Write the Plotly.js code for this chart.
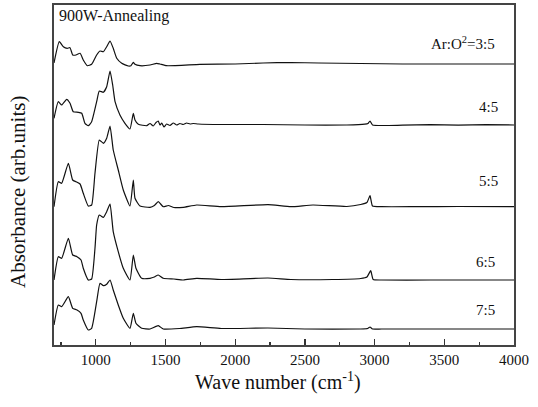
<!DOCTYPE html>
<html>
<head>
<meta charset="utf-8">
<script src="https://cdn.plot.ly/plotly-3.0.1.min.js"></script>
<style>html,body{margin:0;padding:0;background:#fff;}#chart{width:538px;height:407px;}</style>
</head>
<body>
<div id="chart"></div>
<script>
// Wavenumbers (cm^-1) and absorbance (arb. units, stacked offsets)
const wn_3_5  = [700, 738, 767, 795, 815, 834, 858, 887, 910, 939, 970, 1006, 1030, 1054, 1078, 1102, 1125, 1150, 1186, 1233, 1252, 1269, 1281, 1317, 1389, 1437, 1460, 1509, 1747, 2000, 2200, 2400, 2600, 2900, 3200, 3600, 4000];
const abs_3_5 = [282, 303.3, 298.3, 296.7, 297.3, 290, 290, 291.7, 285, 279.3, 280.7, 290, 294, 293.3, 298.3, 304, 296.7, 286.7, 281.7, 279, 279.3, 282.7, 280.7, 279.3, 280, 281.7, 281, 279.3, 280.7, 281, 282, 282.5, 282, 281.5, 281, 281, 281];

const wn_4_5  = [700, 731, 755, 791, 815, 838, 874, 899, 922, 946, 970, 1006, 1025, 1054, 1078, 1102, 1121, 1138, 1173, 1209, 1245, 1269, 1281, 1305, 1365, 1389, 1412, 1432, 1448, 1460, 1473, 1489, 1508, 1532, 1556, 1580, 1603, 1627, 1651, 1676, 1699, 1735, 1900, 2200, 2500, 2800, 2930, 2952, 2967, 2985, 3200, 3400, 3600, 3800, 4000];
const abs_4_5 = [226.7, 243.3, 240, 245.7, 241.7, 233.3, 232.7, 231.7, 221.7, 219.3, 223.3, 243.3, 254, 252.7, 258.3, 274, 260, 243.3, 230, 221.7, 216, 231.7, 225, 220.7, 219.3, 221.5, 219, 222.5, 224, 220, 222, 218, 221, 219.5, 222, 220, 221.5, 220.5, 222, 221, 221.5, 221, 220.5, 220.5, 220, 220, 220.8, 221.5, 224, 220, 219.8, 220.3, 219.8, 220.3, 220];

const wn_5_5  = [700, 731, 755, 803, 834, 858, 887, 910, 946, 970, 994, 1025, 1054, 1078, 1102, 1125, 1161, 1197, 1245, 1269, 1281, 1317, 1389, 1420, 1448, 1484, 1520, 1560, 1628, 1724, 1900, 2235, 2400, 2558, 2800, 2900, 2945, 2967, 2985, 3050, 3300, 3600, 4000];
const abs_5_5 = [138.3, 163.3, 161.7, 181.7, 165, 163.3, 161, 151.7, 139, 140, 171.7, 205, 201.7, 206.7, 219, 195, 175, 155, 139, 165, 146.7, 139, 137.7, 139.5, 143.3, 138.3, 139.5, 137.5, 137.7, 140, 138.3, 140.3, 138.3, 140, 138.5, 140.5, 142.5, 149.3, 139, 138.3, 138.3, 138.5, 138.3];

const wn_6_5  = [700, 731, 755, 803, 834, 865, 894, 910, 946, 970, 994, 1006, 1025, 1054, 1078, 1102, 1125, 1161, 1197, 1245, 1269, 1288, 1329, 1389, 1420, 1448, 1484, 1560, 1628, 1724, 1900, 2235, 2400, 2700, 2900, 2945, 2972, 2990, 3050, 3400, 4000];
const abs_6_5 = [65, 88.3, 86.7, 106.7, 90, 88.3, 85, 76.7, 65, 66, 96.7, 120, 130, 127.7, 133.3, 141, 113.3, 93.3, 76.7, 65, 90, 76.7, 66.7, 66.7, 68, 70, 66.7, 66, 65, 66.7, 65.5, 67, 65.5, 65.5, 66.5, 68, 74.3, 65.5, 65, 65, 65];

const wn_7_5  = [700, 731, 755, 803, 834, 865, 894, 910, 946, 970, 1006, 1030, 1054, 1078, 1102, 1125, 1161, 1197, 1245, 1269, 1288, 1329, 1389, 1448, 1484, 1600, 1724, 1900, 2235, 2500, 2900, 2950, 2967, 2985, 3050, 3500, 4000];
const abs_7_5 = [20, 40, 38.3, 48.3, 36.7, 35, 31.7, 25, 15, 16.7, 43.3, 61.7, 59.3, 60.7, 65, 55, 40, 26.7, 16.7, 31.7, 21.7, 16.7, 16, 19.3, 16, 16.5, 18.3, 16.5, 17, 16, 16, 16.5, 18, 16, 16, 16, 16];

const sampleLabels = ["Ar:O<sup>2</sup>=3:5", "4:5", "5:5", "6:5", "7:5"];
const panelTitle = "900W-Annealing";
const xTitle = "Wave number (cm<sup>-1</sup>)";
const yTitle = "Absorbance (arb.units)";
const xTickVals = [1000, 1500, 2000, 2500, 3000, 3500, 4000];

const series = [[wn_3_5, abs_3_5], [wn_4_5, abs_4_5], [wn_5_5, abs_5_5], [wn_6_5, abs_6_5], [wn_7_5, abs_7_5]];
const traces = series.map(s => ({
  x: s[0], y: s[1], type: 'scatter', mode: 'lines',
  line: {color: '#111', width: 1.2, shape: 'spline', smoothing: 0.45},
  showlegend: false, hoverinfo: 'skip'
}));

const serif = 'Liberation Serif';
const labelY = [0.888, 0.700, 0.482, 0.244, 0.103];
const labelX = [0.963, 0.970, 0.970, 0.963, 0.963];
const annotations = sampleLabels.map((t, i) => ({
  text: t, xref: 'paper', yref: 'paper', x: labelX[i], y: labelY[i],
  xanchor: 'right', yanchor: 'middle', showarrow: false,
  font: {family: serif, size: 15, color: '#111'}
}));
annotations.push({
  text: panelTitle, xref: 'paper', yref: 'paper', x: 0.006, y: 0.968,
  xanchor: 'left', yanchor: 'middle', showarrow: false,
  font: {family: serif, size: 16, color: '#111'}
});
// axis titles placed as annotations (paper coords relative to plot area 54..514 x 5..345)
annotations.push({
  text: xTitle, xref: 'paper', yref: 'paper', x: (278 - 54) / 460, y: (345 - 381) / 340,
  xanchor: 'center', yanchor: 'middle', showarrow: false,
  font: {family: serif, size: 20, color: '#111'}
});
annotations.push({
  text: yTitle, xref: 'paper', yref: 'paper', x: (18 - 54) / 460, y: (345 - 192) / 340,
  xanchor: 'center', yanchor: 'middle', showarrow: false, textangle: -90,
  font: {family: serif, size: 21, color: '#111'}
});

const layout = {
  width: 538, height: 407,
  margin: {l: 54, r: 24, t: 5, b: 62},
  paper_bgcolor: '#fff', plot_bgcolor: '#fff',
  font: {family: serif, color: '#111'},
  xaxis: {
    range: [700, 4000], tickvals: xTickVals, ticktext: xTickVals.map(String),
    ticks: 'inside', ticklen: 6, tickwidth: 1.2, tickcolor: '#333',
    minor: {dtick: 250, tick0: 0, ticks: 'inside', ticklen: 3, tickwidth: 1.2, tickcolor: '#333'},
    showline: true, linecolor: '#444', linewidth: 2, mirror: true,
    showgrid: false, zeroline: false,
    tickfont: {family: serif, size: 15, color: '#111'}
  },
  yaxis: {
    range: [0, 340], showticklabels: false, ticks: '',
    showline: true, linecolor: '#444', linewidth: 2, mirror: true,
    showgrid: false, zeroline: false
  },
  annotations: annotations
};

Plotly.newPlot('chart', traces, layout, {displayModeBar: false, staticPlot: true});
</script>
</body>
</html>
